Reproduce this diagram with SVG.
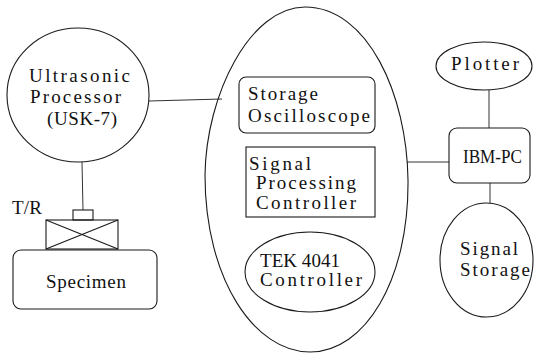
<svg xmlns="http://www.w3.org/2000/svg" width="534" height="355" viewBox="0 0 534 355">
<style>
.s{fill:none;stroke:#1a1a1a;stroke-width:1.1}
.c{fill:none;stroke:#333;stroke-width:1}
.t{font-family:"Liberation Serif","DejaVu Serif",serif;font-size:19px;fill:#111}
</style>
<rect width="534" height="355" fill="#fff"/>
<g id="connectors">
<line class="c" x1="149" y1="101" x2="222" y2="99"/>
<line class="c" x1="82" y1="162" x2="83" y2="210"/>
<line class="c" x1="407" y1="162" x2="449" y2="162"/>
<line class="c" x1="489" y1="90" x2="489" y2="128"/>
<line class="c" x1="490" y1="183" x2="490" y2="203"/>
</g>
<g id="ultrasonic">
<ellipse class="s" cx="78" cy="95" rx="71" ry="67"/>
<text class="t" x="29" y="82" textLength="101" lengthAdjust="spacing">Ultrasonic</text>
<text class="t" x="30" y="103" textLength="91" lengthAdjust="spacing">Processor</text>
<text class="t" x="47" y="125" textLength="70" lengthAdjust="spacing">(USK-7)</text>
</g>
<g id="transducer">
<rect class="s" x="73" y="210" width="20" height="10"/>
<rect class="s" x="46" y="220" width="72" height="29"/>
<path class="s" d="M46 220 L118 249 M118 220 L46 249"/>
<text class="t" x="12" y="214" textLength="30" lengthAdjust="spacing">T/R</text>
</g>
<g id="specimen">
<rect class="s" x="13" y="250" width="144" height="59" rx="8"/>
<text class="t" x="46" y="288" textLength="80" lengthAdjust="spacing">Specimen</text>
</g>
<g id="system">
<path class="s" d="M305 7 C368 7 407 95 408 180 C409 280 365 352 310 352 C255 352 205 280 205 175 C206 95 250 7 305 7 Z"/>
</g>
<g id="oscilloscope">
<rect class="s" x="239" y="77" width="136" height="56" rx="7"/>
<text class="t" x="248" y="100" textLength="70" lengthAdjust="spacing">Storage</text>
<text class="t" x="248" y="122" textLength="122" lengthAdjust="spacing">Oscilloscope</text>
</g>
<g id="spc">
<rect class="s" x="246" y="147" width="129" height="70"/>
<text class="t" x="249" y="170" textLength="62" lengthAdjust="spacing">Signal</text>
<text class="t" x="256" y="189" textLength="100" lengthAdjust="spacing">Processing</text>
<text class="t" x="256" y="209" textLength="100" lengthAdjust="spacing">Controller</text>
</g>
<g id="tek">
<ellipse class="s" cx="310" cy="272" rx="65" ry="40"/>
<text class="t" x="260" y="267" textLength="80" lengthAdjust="spacing">TEK 4041</text>
<text class="t" x="260" y="286" textLength="102" lengthAdjust="spacing">Controller</text>
</g>
<g id="plotter">
<ellipse class="s" cx="484" cy="66" rx="48" ry="24"/>
<text class="t" x="451" y="70" textLength="68" lengthAdjust="spacing">Plotter</text>
</g>
<g id="ibmpc">
<rect class="s" x="449" y="128" width="81" height="55" rx="8"/>
<text class="t" x="463" y="163" textLength="59" lengthAdjust="spacingAndGlyphs">IBM-PC</text>
</g>
<g id="storage">
<ellipse class="s" cx="486.5" cy="260" rx="46.5" ry="57"/>
<text class="t" x="460" y="255" textLength="58" lengthAdjust="spacing">Signal</text>
<text class="t" x="460" y="276" textLength="70" lengthAdjust="spacing">Storage</text>
</g>
</svg>
